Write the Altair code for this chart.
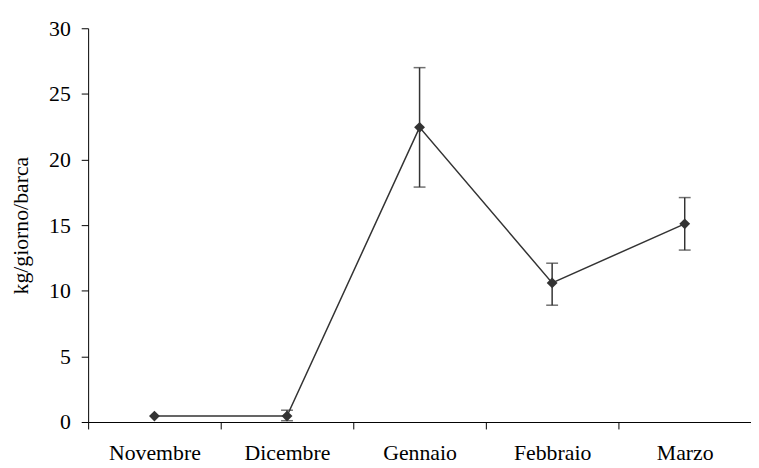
import altair as alt
import pandas as pd

mesi = ["Novembre", "Dicembre", "Gennaio", "Febbraio", "Marzo"]
valori = [0.45, 0.45, 22.45, 10.6, 15.1]
err_basso = [None, 0.1, 17.9, 8.9, 13.1]
err_alto = [None, 0.9, 27.0, 12.1, 17.1]

df = pd.DataFrame({"mese": mesi, "valore": valori})
df_err = pd.DataFrame({"mese": mesi, "basso": err_basso, "alto": err_alto}).dropna()

FONT = "Liberation Serif"
COL = "#333333"
FS = 22

x_enc = alt.X(
    "mese:N",
    sort=mesi,
    scale=alt.Scale(type="band", paddingInner=0, paddingOuter=0),
    axis=alt.Axis(
        title=None, tickBand="extent", labelAngle=0, labelFont=FONT,
        labelFontSize=FS, labelColor="black", tickSize=7, tickColor="black",
        domainColor="black", labelPadding=14, grid=False,
    ),
)
y_scale = alt.Scale(domain=[0, 30], nice=False)
y_axis = alt.Axis(
    title="kg/giorno/barca", titleFont=FONT, titleFontSize=FS,
    titleFontWeight="normal", titleColor="black", values=[0, 5, 10, 15, 20, 25, 30],
    labelFont=FONT, labelFontSize=FS, labelColor="black", tickSize=7,
    tickColor="black", domainColor="black", labelPadding=11, grid=False,
    titlePadding=16,
)

line = alt.Chart(df).mark_line(color=COL, strokeWidth=1.5).encode(
    x=x_enc, y=alt.Y("valore:Q", scale=y_scale, axis=y_axis)
)
points = alt.Chart(df).mark_point(
    shape="diamond", filled=True, color=COL, size=120, opacity=1
).encode(x=alt.X("mese:N", sort=mesi), y="valore:Q")
rules = alt.Chart(df_err).mark_rule(color=COL, strokeWidth=1.5).encode(
    x=alt.X("mese:N", sort=mesi), y="basso:Q", y2="alto:Q"
)
cap_lo = alt.Chart(df_err).mark_tick(color=COL, thickness=1.5, size=12, orient="horizontal").encode(
    x=alt.X("mese:N", sort=mesi), y="basso:Q"
)
cap_hi = alt.Chart(df_err).mark_tick(color=COL, thickness=1.5, size=12, orient="horizontal").encode(
    x=alt.X("mese:N", sort=mesi), y="alto:Q"
)

chart = alt.layer(line, rules, cap_lo, cap_hi, points).properties(
    width=670, height=398,
    background="white",
    autosize=alt.AutoSizeParams(type="none"),
    padding={"left": 81, "top": 18, "right": 0, "bottom": 44},
).configure_view(stroke=None)

chart.save("out.html", embed_options={"renderer": "svg", "actions": False})
